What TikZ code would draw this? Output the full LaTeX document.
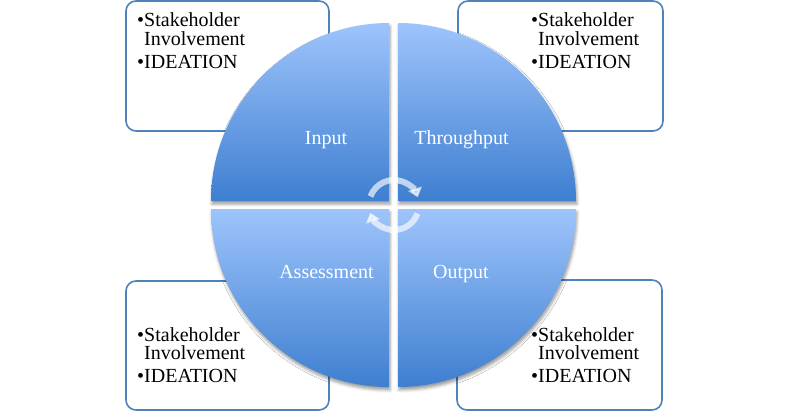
\documentclass[tikz,border=0pt]{standalone}
\usepackage{fontspec}
\setmainfont{Liberation Serif}
\usetikzlibrary{shadows.blur}
\usetikzlibrary{arrows.meta}
\definecolor{boxline}{HTML}{4F81BD}
\definecolor{quadtop}{HTML}{9EC4FC}
\definecolor{quadbottom}{HTML}{3E7FD0}

\begin{document}
\begin{tikzpicture}[x=1pt,y=-1pt,
note/.style = {draw=boxline, line width=1.6pt, rounded corners=10pt, fill=white, inner sep=0pt},
bullets/.style = {anchor=base west, inner sep=0pt, align=left, font=\fontsize{20}{18}\selectfont},
quad/.style = {top color=quadtop, bottom color=quadbottom, draw=none,
  blur shadow={shadow xshift=1pt, shadow yshift=-3pt, shadow blur radius=3pt, shadow opacity=40}},
quadlabel/.style = {anchor=base, inner sep=0pt, text=white, font=\fontsize{20}{20}\selectfont},
turnarrow/.style = {line width=6pt, draw=white, draw opacity=0.65, fill opacity=0.65,
  -{Triangle[width=14pt,length=9pt]}}
]
\useasboundingbox (0,0) rectangle (787,412);

% corner boxes
\node [note, minimum width=203pt, minimum height=130pt] (boxin) at (227.5,66) {};
\node [note, minimum width=205pt, minimum height=130pt] (boxthrough) at (560.5,66) {};
\node [note, minimum width=203pt, minimum height=129pt] (boxassess) at (227.5,345.5) {};
\node [note, minimum width=205pt, minimum height=130pt] (boxout) at (559.5,345) {};

% anchored at the baseline of the last line
\node [bullets] (txtin) at (137,68) {\textbullet Stakeholder\\\phantom{\textbullet}Involvement\\[5pt]\textbullet IDEATION};
\node [bullets] (txtthrough) at (531,68) {\textbullet Stakeholder\\\phantom{\textbullet}Involvement\\[5pt]\textbullet IDEATION};
\node [bullets] (txtassess) at (137,382) {\textbullet Stakeholder\\\phantom{\textbullet}Involvement\\[5pt]\textbullet IDEATION};
\node [bullets] (txtout) at (531,382) {\textbullet Stakeholder\\\phantom{\textbullet}Involvement\\[5pt]\textbullet IDEATION};

% quarter discs
\path [quad] (389,201) -- (211,201) arc[start angle=180, end angle=270, radius=178] -- cycle;
\path [quad] (398,201) -- (398,23) arc[start angle=270, end angle=360, radius=178] -- cycle;
\path [quad] (389,209) -- (389,387) arc[start angle=90, end angle=180, radius=178] -- cycle;
\path [quad] (398,209) -- (576,209) arc[start angle=0, end angle=90, radius=178] -- cycle;

\coordinate (hub) at (394,205);
\draw [turnarrow] (hub) ++(200:25) arc[start angle=200, end angle=342, radius=25];
\draw [turnarrow] (hub) ++(20:25) arc[start angle=20, end angle=162, radius=25];

\node [quadlabel] (input) at (326,144) {Input};
\node [quadlabel] (throughput) at (461.5,144) {Throughput};
\node [quadlabel] (assessment) at (326.5,278.5) {Assessment};
\node [quadlabel] (output) at (461,278.5) {Output};

\end{tikzpicture}
\end{document}
